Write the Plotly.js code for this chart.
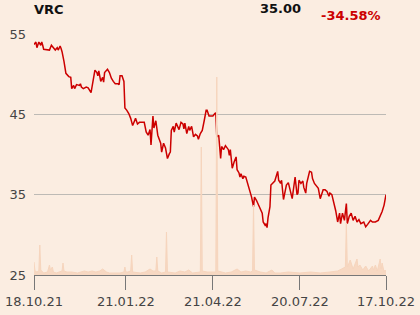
<!DOCTYPE html>
<html>
<head>
<meta charset="utf-8">
<script src="https://cdn.plot.ly/plotly-3.0.1.min.js"></script>
<style>
  html, body { margin: 0; padding: 0; background: #fbede1; }
  #chart { width: 420px; height: 315px; }
</style>
</head>
<body>
<div id="chart"></div>
<script>
// ---- Data ----
var ticker = "VRC";
var lastPrice = "35.00";
var changePct = "-34.58%";

var tickDates = ["2021-10-18", "2022-01-21", "2022-04-21", "2022-07-20", "2022-10-17"];
var tickLabels = ["18.10.21", "21.01.22", "21.04.22", "20.07.22", "17.10.22"];
var priceTicks = [25, 35, 45, 55];

var priceDates = [
  "2021-10-18","2021-10-20","2021-10-21","2021-10-23","2021-10-25","2021-10-26","2021-10-27","2021-10-28",
  "2021-11-03","2021-11-05","2021-11-09","2021-11-11","2021-11-12","2021-11-14","2021-11-15","2021-11-16","2021-11-18","2021-11-20","2021-11-23","2021-11-25","2021-11-26","2021-11-28","2021-11-29",
  "2021-12-01","2021-12-04","2021-12-05","2021-12-06","2021-12-08","2021-12-11","2021-12-13","2021-12-16","2021-12-17","2021-12-20","2021-12-22","2021-12-23","2021-12-24","2021-12-26","2021-12-28","2021-12-29","2021-12-30",
  "2022-01-02","2022-01-04","2022-01-06","2022-01-08","2022-01-10","2022-01-13","2022-01-14","2022-01-15","2022-01-17","2022-01-19","2022-01-20","2022-01-22","2022-01-24","2022-01-26","2022-01-28","2022-01-29","2022-01-31",
  "2022-02-02","2022-02-04","2022-02-09","2022-02-11","2022-02-13","2022-02-15","2022-02-16","2022-02-18","2022-02-19","2022-02-21","2022-02-23","2022-02-26","2022-02-27",
  "2022-03-01","2022-03-03","2022-03-05","2022-03-07","2022-03-08","2022-03-09","2022-03-11","2022-03-12","2022-03-14","2022-03-17","2022-03-19","2022-03-21","2022-03-22","2022-03-23","2022-03-25","2022-03-27","2022-03-28","2022-03-30",
  "2022-04-01","2022-04-03","2022-04-05","2022-04-06","2022-04-08","2022-04-10","2022-04-11","2022-04-12","2022-04-14","2022-04-15","2022-04-17","2022-04-19","2022-04-21","2022-04-23","2022-04-24","2022-04-25","2022-04-27","2022-04-29","2022-04-30",
  "2022-05-02","2022-05-04","2022-05-07","2022-05-08","2022-05-09","2022-05-11","2022-05-13","2022-05-15","2022-05-16","2022-05-18","2022-05-19","2022-05-20","2022-05-22","2022-05-23","2022-05-25","2022-05-27","2022-05-29","2022-05-31",
  "2022-06-02","2022-06-03","2022-06-05","2022-06-07","2022-06-09","2022-06-11","2022-06-12","2022-06-14","2022-06-15","2022-06-16","2022-06-17","2022-06-19","2022-06-20","2022-06-22","2022-06-24","2022-06-27","2022-06-28","2022-06-30",
  "2022-07-01","2022-07-03","2022-07-05","2022-07-06","2022-07-08","2022-07-10","2022-07-12","2022-07-15","2022-07-17","2022-07-18","2022-07-19","2022-07-21","2022-07-23","2022-07-24","2022-07-26","2022-07-27","2022-07-29","2022-07-30",
  "2022-08-01","2022-08-02","2022-08-04","2022-08-06","2022-08-08","2022-08-10","2022-08-13","2022-08-15","2022-08-17","2022-08-19","2022-08-20","2022-08-22","2022-08-24","2022-08-26","2022-08-28","2022-08-30","2022-08-31",
  "2022-09-02","2022-09-04","2022-09-06","2022-09-07","2022-09-09","2022-09-11","2022-09-13","2022-09-15","2022-09-17","2022-09-19","2022-09-21","2022-09-24","2022-09-26","2022-09-28",
  "2022-10-01","2022-10-03","2022-10-06","2022-10-09","2022-10-11","2022-10-13","2022-10-15","2022-10-16","2022-10-17"
];
var priceValues = [
  53.7,54.0,53.3,54.0,53.6,54.0,53.6,53.1,
  53.0,53.6,53.0,53.3,53.0,53.5,53.2,52.8,51.6,50.1,49.7,49.6,48.2,48.6,48.2,
  48.7,48.6,48.8,48.4,48.2,48.4,48.3,47.7,48.4,50.5,50.2,49.8,50.4,49.1,49.6,49.0,50.2,
  50.6,50.2,49.5,49.1,48.8,48.8,48.7,49.8,49.8,49.1,45.8,45.5,45.1,44.5,43.6,43.9,44.5,
  43.8,44.0,44.0,42.8,42.4,43.1,41.2,44.8,43.3,44.2,42.4,41.4,40.3,
  41.4,40.8,39.5,40.1,40.3,43.0,43.5,42.8,43.9,43.1,44.0,43.8,43.2,43.9,42.6,43.5,43.0,43.5,
  42.2,42.5,42.3,41.9,42.6,43.0,43.8,44.2,45.5,45.5,44.8,44.8,44.8,45.1,45.2,42.2,42.4,39.5,41.0,
  40.6,41.1,40.6,39.9,40.6,38.3,39.1,39.7,38.1,37.7,37.2,37.6,37.0,37.3,37.2,36.4,35.7,34.7,
  33.5,34.7,34.3,33.7,33.3,32.7,31.6,31.2,31.4,30.9,32.1,33.5,36.2,36.5,36.7,37.9,36.8,36.4,
  36.8,34.4,35.6,36.2,36.5,35.6,34.5,37.2,35.0,35.2,36.8,36.4,36.7,35.9,35.2,36.4,37.2,37.9,
  37.8,37.0,36.4,36.1,35.8,34.5,35.6,35.6,35.4,34.8,35.2,35.0,34.1,33.0,31.6,32.7,31.4,
  32.7,31.8,33.9,31.4,32.3,32.7,31.8,32.3,31.6,31.9,31.4,31.6,31.0,31.3,
  31.8,31.6,31.6,31.8,32.3,32.9,33.7,34.2,35.0
];

// Traded volume (relative units)
var volumeDates = [
  "2021-10-18","2021-10-19","2021-10-21","2021-10-23","2021-10-24","2021-10-25","2021-10-28",
  "2021-11-01","2021-11-03","2021-11-04","2021-11-06","2021-11-07","2021-11-10","2021-11-14","2021-11-16","2021-11-17","2021-11-18","2021-11-21","2021-11-26",
  "2021-12-02","2021-12-09","2021-12-13","2021-12-17","2021-12-21","2021-12-25","2021-12-28",
  "2022-01-01","2022-01-04","2022-01-10","2022-01-15","2022-01-19","2022-01-20","2022-01-21","2022-01-23","2022-01-26","2022-01-27","2022-01-28",
  "2022-02-05","2022-02-10","2022-02-13","2022-02-15","2022-02-18","2022-02-21","2022-02-22","2022-02-23","2022-02-27",
  "2022-03-03","2022-03-04","2022-03-05","2022-03-13","2022-03-18","2022-03-23","2022-03-27","2022-03-31",
  "2022-04-06","2022-04-08","2022-04-09","2022-04-10","2022-04-15","2022-04-20","2022-04-24","2022-04-25","2022-04-26",
  "2022-05-04","2022-05-10","2022-05-16","2022-05-20","2022-05-25","2022-05-30",
  "2022-06-01","2022-06-02","2022-06-03","2022-06-09","2022-06-15","2022-06-21","2022-06-24","2022-06-30",
  "2022-07-08","2022-07-15","2022-07-20","2022-07-31",
  "2022-08-10","2022-08-20","2022-08-28",
  "2022-09-01","2022-09-05","2022-09-06","2022-09-07","2022-09-08","2022-09-10","2022-09-13","2022-09-17","2022-09-18","2022-09-20","2022-09-23","2022-09-26","2022-09-29",
  "2022-10-03","2022-10-04","2022-10-06","2022-10-08","2022-10-11","2022-10-12","2022-10-13","2022-10-15","2022-10-16","2022-10-17"
];
var volumeValues = [
  13,4,3,4,30,5,2,
  3,10,5,8,3,2,3,4,12,4,3,3,
  2,4,3,4,3,4,6,
  3,2,2,2,3,8,3,3,4,20,3,
  2,3,5,6,4,4,18,4,2,
  3,43,3,2,4,3,5,2,
  3,3,128,4,3,3,3,198,4,
  2,3,6,3,4,3,
  4,70,5,3,2,5,2,2,
  3,2,2,3,
  2,3,4,
  6,8,52,8,10,15,6,16,8,10,5,9,4,
  9,5,10,4,16,6,12,3,5,3
];

// ---- Chart ----
var FONT = "DejaVu Sans, sans-serif";
var RED = "#cc0000";

var volumeTrace = {
  x: volumeDates, y: volumeValues, yaxis: "y2",
  type: "scatter", mode: "lines", fill: "tozeroy",
  line: { color: "#f6d5bd", width: 1 },
  fillcolor: "#f7d8c2",
  hoverinfo: "skip"
};
var priceTrace = {
  x: priceDates, y: priceValues,
  type: "scatter", mode: "lines",
  line: { color: RED, width: 1.5 }
};

var layout = {
  width: 420, height: 315,
  margin: { l: 34, r: 34, t: 34, b: 40, pad: 0 },
  paper_bgcolor: "#fbede1",
  plot_bgcolor: "#fbede1",
  showlegend: false,
  font: { family: FONT, size: 13, color: "#444" },
  xaxis: {
    type: "date",
    range: ["2021-10-18", "2022-10-17"],
    tickmode: "array", tickvals: tickDates, ticktext: tickLabels,
    ticks: "outside", ticklen: 14, tickcolor: "#777", tickwidth: 1,
    showline: true, linecolor: "#777", linewidth: 1,
    showgrid: false, zeroline: false,
    tickfont: { family: FONT, size: 13, color: "#444" }
  },
  yaxis: {
    range: [25, 55],
    tickmode: "array", tickvals: priceTicks,
    showgrid: true, gridcolor: "#bdbab5", gridwidth: 1,
    zeroline: false, showline: false, ticks: "",
    ticklabelstandoff: 7,
    tickfont: { family: FONT, size: 13, color: "#444" }
  },
  yaxis2: {
    overlaying: "y", range: [0, 241],
    visible: false, showgrid: false, zeroline: false
  },
  annotations: [
    { text: "<b>" + ticker + "</b>", xref: "paper", yref: "paper", x: 0, y: 1.0996, xshift: -2,
      xanchor: "left", yanchor: "middle", showarrow: false,
      font: { family: FONT, size: 13, color: "#111" } },
    { text: "<b>" + lastPrice + "</b>", xref: "paper", yref: "paper", x: 0.764, y: 1.104,
      xanchor: "right", yanchor: "middle", showarrow: false,
      font: { family: FONT, size: 13, color: "#111" } },
    { text: "<b>" + changePct + "</b>", xref: "paper", yref: "paper", x: 0.992, y: 1.0747,
      xanchor: "right", yanchor: "middle", showarrow: false,
      font: { family: FONT, size: 13, color: RED } }
  ]
};

Plotly.newPlot("chart", [volumeTrace, priceTrace], layout, { staticPlot: true, displayModeBar: false });
</script>
</body>
</html>
